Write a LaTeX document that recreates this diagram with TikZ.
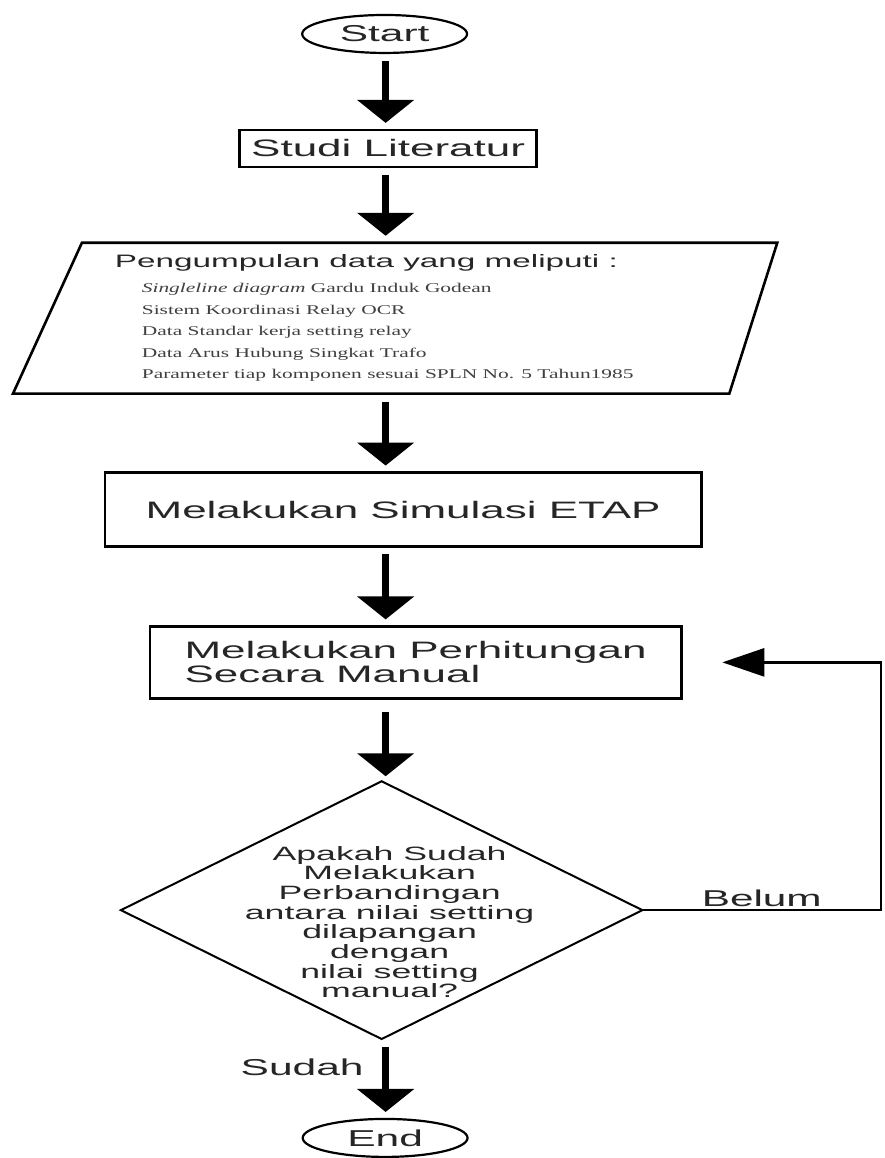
\documentclass[tikz,border=0pt]{standalone}
\usepackage{fontspec}
\newfontfamily\flowsans[FakeStretch=1.85]{Liberation Sans}
\newfontfamily\flowserif[FakeStretch=1.6]{Liberation Serif}
\usetikzlibrary{arrows.meta}
\usetikzlibrary{shapes.geometric,positioning,calc}
\tikzset{
	every path/.style = {line width=2.6pt},
	every node/.style = {inner sep=0pt, outer sep=0pt, text=black!85},
	term/.style = {draw, ellipse, line width=2.2pt, minimum width=165pt, minimum height=38pt, font=\flowsans\fontsize{23}{24}\selectfont},
	proc/.style = {draw, rectangle, line width=2.6pt, font=\flowsans\fontsize{23.8}{24}\selectfont},
	decision/.style = {draw, diamond, line width=2pt, minimum width=522pt, minimum height=258pt},
	flow/.style = {line width=6.5pt, -{Triangle[length=23pt,width=56pt]}, shorten <=8pt, shorten >=7pt},
	back/.style = {line width=2.6pt, -{Triangle[length=42pt,width=28pt]}}
}

\begin{document}
\begin{tikzpicture}[x=1pt,y=-1pt]
	\path[fill=white] (0,0) rectangle (885,1158);
	\coordinate (col) at (386,0);
	\coordinate (fb) at (882,0);
	\node (start) [term] at (385,34) {Start};
	\node (studi) [proc, minimum width=297pt, minimum height=37pt, below=77pt of start, xshift=3.5pt] {Studi Literatur};
	\node (data) [minimum width=696pt, minimum height=151pt, below=76pt of studi, xshift=41.5pt] {};
	\node (sim) [proc, minimum width=597pt, minimum height=74pt, below=79pt of data, xshift=-26.5pt] {Melakukan Simulasi ETAP};
	\node (perh) [proc, align=left, minimum width=532pt, minimum height=72pt, below=80pt of sim, xshift=12.5pt] {Melakukan Perhitungan\\Secara Manual};
	\node (dec) [decision, below=83pt of perh, xshift=-34pt] {};
	\node (end) [term, below=80pt of dec, xshift=3.5pt] {End};
	% data box
	\draw (data.north west) -- (data.north east) -- ($(data.south east)+(-48,0)$) -- ($(data.south west)+(-69,0)$) -- cycle;
	\node (head) [anchor=base west, font=\flowsans\fontsize{18}{20}\selectfont] at ($(data.north west)+(33,25)$) {Pengumpulan data yang meliputi :};
	\node (items) [anchor=base west, align=left, text=black!75, font=\flowserif\fontsize{13.4}{21.5}\selectfont] at ($(data.north west)+(60,136)$) {\textit{Singleline diagram} Gardu Induk Godean\\Sistem Koordinasi Relay OCR\\Data Standar kerja setting relay\\Data Arus Hubung Singkat Trafo\\Parameter tiap komponen sesuai SPLN No. 5 Tahun1985};
	\node (ask) [align=center, font=\flowsans\fontsize{19.3}{19.7}\selectfont] at ($(dec.center)+(8,12)$) {Apakah Sudah\\Melakukan\\Perbandingan\\antara nilai setting\\dilapangan\\dengan\\nilai setting\\manual?};
	% arrows
	\draw[flow] (col |- start.south) -- (col |- studi.north);
	\draw[flow] (col |- studi.south) -- (col |- data.north);
	\draw[flow] (col |- data.south) -- (col |- sim.north);
	\draw[flow] (col |- sim.south) -- (col |- perh.north);
	\draw[flow, shorten <=14pt, shorten >=5pt] (col |- perh.south) -- (col |- dec.north);
	\draw[flow] (col |- dec.south) -- node[left=22pt, pos=0.35, font=\flowsans\fontsize{23}{24}\selectfont] {Sudah} (col |- end.north);
	\draw[back, shorten >=41pt] (dec.east) -- node[above=3pt, font=\flowsans\fontsize{22.9}{24}\selectfont] {Belum} (dec.east -| fb) -- (fb |- perh.east) -- (perh.east);
\end{tikzpicture}
\end{document}
